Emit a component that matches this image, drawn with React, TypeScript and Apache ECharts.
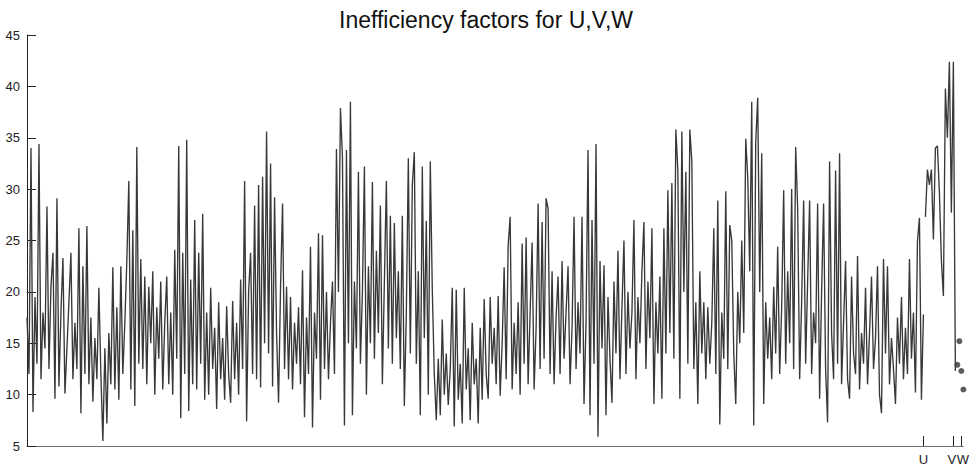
import React, { useEffect, useRef } from "react";
import * as echarts from "echarts";

// Inefficiency factor for each parameter, in draw order
const uValues: number[] = [
  17.5, 12.0, 34.0, 8.3, 19.5, 13.0, 34.4, 11.5, 18.0, 14.5,
  28.3, 12.5, 20.5, 23.8, 9.6, 29.1, 10.8, 18.0, 23.3, 10.1,
  14.5, 19.0, 23.8, 11.5, 17.0, 12.5, 26.2, 8.2, 22.5, 12.0,
  26.4, 11.0, 17.5, 9.3, 15.5, 11.5, 20.4, 12.0, 5.5, 14.5,
  7.2, 16.0, 11.0, 22.4, 10.5, 18.5, 9.5, 22.5, 12.0, 17.0,
  23.0, 30.8, 10.5, 26.0, 8.9, 34.1, 13.0, 23.2, 12.5, 21.5,
  11.0, 20.5, 15.0, 22.0, 10.0, 18.5, 13.5, 21.0, 10.5, 17.0,
  21.5, 11.0, 18.0, 10.0, 24.1, 13.5, 34.2, 7.7, 23.8, 12.0,
  34.8, 8.4, 21.2, 11.0, 27.0, 10.5, 23.8, 13.0, 27.6, 9.5,
  18.0, 10.0, 20.4, 12.5, 16.5, 8.6, 19.0, 11.5, 15.5, 9.5,
  18.6, 12.0, 9.2, 19.1, 11.5, 17.0, 10.0, 21.2, 12.5, 30.8,
  7.4, 20.0, 23.8, 12.0, 28.4, 11.5, 30.4, 10.7, 31.2, 15.0,
  35.6, 14.0, 32.5, 10.8, 29.2, 16.0, 9.2, 20.5, 28.6, 12.5,
  20.5, 11.5, 19.5, 10.5, 17.0, 13.0, 18.5, 11.0, 22.1, 7.8,
  17.5, 12.0, 24.4, 6.8, 18.0, 13.5, 25.7, 9.5, 25.5, 12.5,
  20.0, 11.5, 17.0, 21.0, 12.0, 33.9, 20.0, 37.9, 33.1, 7.0,
  33.8, 15.0, 38.5, 8.0, 21.0, 14.5, 31.7, 13.0, 20.0, 32.2,
  10.0, 22.5, 15.0, 30.7, 13.5, 24.0, 16.0, 28.4, 11.0, 21.0,
  30.8, 14.5, 27.4, 13.0, 26.7, 15.5, 22.0, 12.5, 27.4, 8.9,
  18.0, 33.0, 14.0, 30.4, 33.6, 13.0, 22.0, 8.0, 32.2, 15.5,
  26.9, 10.0, 32.7, 20.2, 12.0, 7.5, 13.5, 8.0, 17.3, 10.0,
  14.0, 9.0, 12.5, 20.4, 6.9, 20.2, 9.5, 13.0, 7.2, 20.4,
  10.5, 14.5, 7.5, 17.0, 11.0, 13.5, 7.2, 16.5, 9.5, 19.3,
  12.0, 9.6, 19.5, 13.0, 16.5, 11.0, 19.6, 9.9, 15.0, 22.4,
  11.5, 24.5, 27.3, 10.5, 17.0, 12.0, 19.0, 10.0, 24.7, 13.0,
  25.3, 11.0, 18.0, 24.8, 10.5, 16.5, 28.6, 12.5, 26.8, 13.5,
  29.1, 28.1, 12.0, 22.0, 11.0, 17.5, 21.5, 12.0, 23.0, 13.5,
  18.0, 22.5, 11.0, 16.5, 27.3, 12.5, 19.0, 14.0, 27.3, 9.1,
  17.0, 33.8, 8.0, 27.0, 13.0, 34.4, 5.9, 23.0, 14.5, 22.6,
  8.0, 19.5, 13.5, 9.2, 21.0, 14.0, 24.0, 11.5, 18.5, 25.0,
  12.0, 20.0, 14.5, 18.0, 27.0, 11.5, 19.5, 15.0, 22.0, 26.8,
  12.5, 21.0, 15.5, 26.2, 9.1, 19.0, 14.0, 21.5, 9.6, 26.2,
  14.0, 29.9, 16.0, 30.6, 13.5, 35.8, 31.8, 9.6, 35.6, 20.0,
  31.7, 13.0, 35.8, 32.7, 12.5, 19.0, 9.1, 22.0, 14.0, 19.0,
  11.5, 18.5, 13.0, 17.0, 26.2, 12.0, 28.9, 7.1, 18.0, 13.5,
  29.8, 12.5, 26.5, 25.0, 14.0, 9.1, 20.0, 15.0, 25.0, 16.0,
  34.9, 31.2, 22.0, 38.5, 7.0, 34.6, 38.9, 20.0, 33.5, 9.1,
  19.0, 13.5, 17.5, 11.5, 20.5, 14.0, 24.4, 12.0, 18.5, 29.9,
  13.0, 22.0, 15.0, 30.0, 12.5, 34.1, 28.2, 11.5, 19.0, 28.9,
  13.0, 21.0, 28.9, 12.0, 18.0, 15.0, 28.6, 9.6, 20.0, 28.6,
  12.5, 7.3, 32.7, 16.0, 11.5, 31.8, 13.0, 33.5, 11.0, 17.0,
  23.0, 11.5, 9.6, 21.5, 14.0, 12.0, 23.5, 10.5, 16.0, 13.0,
  20.4, 11.0, 16.0, 21.5, 12.5, 15.5, 22.5, 10.0, 8.2, 23.2,
  14.0, 22.5, 11.0, 15.5, 12.5, 9.1, 17.5, 13.0, 19.5, 11.5,
  16.5, 12.0, 23.2, 13.5, 18.0, 10.2, 24.9, 27.2, 9.5, 17.8,
];

const vValues: number[] = [
  27.3, 31.9, 30.4, 31.9, 25.1, 34.0, 34.2, 29.7,
  23.0, 19.6, 39.8, 35.0, 42.4, 27.7, 42.4, 12.3,
];

const wValues: number[] = [12.9, 15.2, 12.3, 10.5];

// Group labels and the index where each one is marked on the x axis
const groupNames: string[] = ["U", "V", "W"];
const groupTicks: number[] = [450, 465, 469];

const yMin = 5;
const yMax = 45;
const yStep = 5;

const toPoints = (values: number[], start: number) =>
  values.map((v, i) => [start + i, v]);

export default function App() {
  const ref = useRef<HTMLDivElement>(null);

  useEffect(() => {
    if (!ref.current) return;
    const chart = echarts.init(ref.current, null, { renderer: "svg" });

    const uStart = 1;
    const vStart = uStart + uValues.length;
    const wStart = vStart + vValues.length;
    const xMax = wStart + wValues.length - 1;

    const labelFor: Record<number, string> = {};
    groupTicks.forEach((t, i) => (labelFor[t] = groupNames[i]));

    const lineColor = "#383838";
    const font = "'Liberation Sans', Arial, sans-serif";

    // V and W sit close together, so their marks go on two stacked
    // bottom axes; otherwise the label layout drops one of them.
    const tickSets = [
      groupTicks.filter((_, i) => i % 2 === 0),
      groupTicks.filter((_, i) => i % 2 === 1),
    ];

    const labelRich = {
      l: { fontFamily: font, fontSize: 13, color: "#222", padding: [0, 3, 0, 0] },
      r: { fontFamily: font, fontSize: 13, color: "#222", padding: [0, 0, 0, 3] },
      c: { fontFamily: font, fontSize: 13, color: "#222" },
    };

    // nudge the two close labels apart so they sit side by side
    const styledLabel = (v: number) => {
      const name = labelFor[v] ?? "";
      if (v === groupTicks[1]) return `{l|${name}}`;
      if (v === groupTicks[2]) return `{r|${name}}`;
      return `{c|${name}}`;
    };

    const makeXAxis = (ticks: number[], showLine: boolean) => ({
      type: "value",
      position: "bottom",
      min: uStart,
      max: xMax,
      splitLine: { show: false },
      axisLine: {
        show: showLine,
        onZero: false,
        lineStyle: { color: "#707070", width: 1 },
      },
      axisTick: {
        show: true,
        inside: true,
        length: 10,
        customValues: ticks,
        lineStyle: { color: "#222", width: 1 },
      },
      axisLabel: {
        show: true,
        customValues: ticks,
        hideOverlap: false,
        formatter: styledLabel,
        rich: labelRich,
        margin: 7,
        fontFamily: font,
        fontSize: 13,
        color: "#222",
      },
    });

    chart.setOption({
      animation: false,
      backgroundColor: "#ffffff",
      title: {
        text: "Inefficiency factors for U,V,W",
        left: "center",
        top: 3,
        textStyle: {
          fontFamily: font,
          fontSize: 23,
          fontWeight: "normal",
          color: "#111",
        },
      },
      grid: { left: 27, right: 6, top: 35, bottom: 19, containLabel: false },
      xAxis: [makeXAxis(tickSets[0], true), makeXAxis(tickSets[1], false)],
      yAxis: {
        type: "value",
        min: yMin,
        max: yMax,
        interval: yStep,
        splitLine: { show: false },
        axisLine: { show: true, lineStyle: { color: "#222", width: 1 } },
        axisTick: {
          show: true,
          inside: true,
          length: 9,
          lineStyle: { color: "#222", width: 1 },
        },
        axisLabel: {
          margin: 7,
          fontFamily: font,
          fontSize: 13,
          color: "#222",
        },
      },
      series: [
        {
          name: "U",
          type: "line",
          xAxisIndex: 0,
          data: toPoints(uValues, uStart),
          showSymbol: false,
          symbol: "none",
          lineStyle: { color: lineColor, width: 1.35 },
        },
        {
          name: "V",
          type: "line",
          xAxisIndex: 0,
          data: toPoints(vValues, vStart),
          showSymbol: false,
          symbol: "none",
          lineStyle: { color: lineColor, width: 1.35 },
        },
        {
          name: "W",
          type: "scatter",
          xAxisIndex: 0,
          data: toPoints(wValues, wStart),
          symbol: "circle",
          symbolSize: 6,
          itemStyle: { color: "#333" },
        },
      ],
    });

    return () => chart.dispose();
  }, []);

  return (
    <div
      ref={ref}
      style={{ position: "fixed", left: 0, top: 0, width: 972, height: 466 }}
    />
  );
}
